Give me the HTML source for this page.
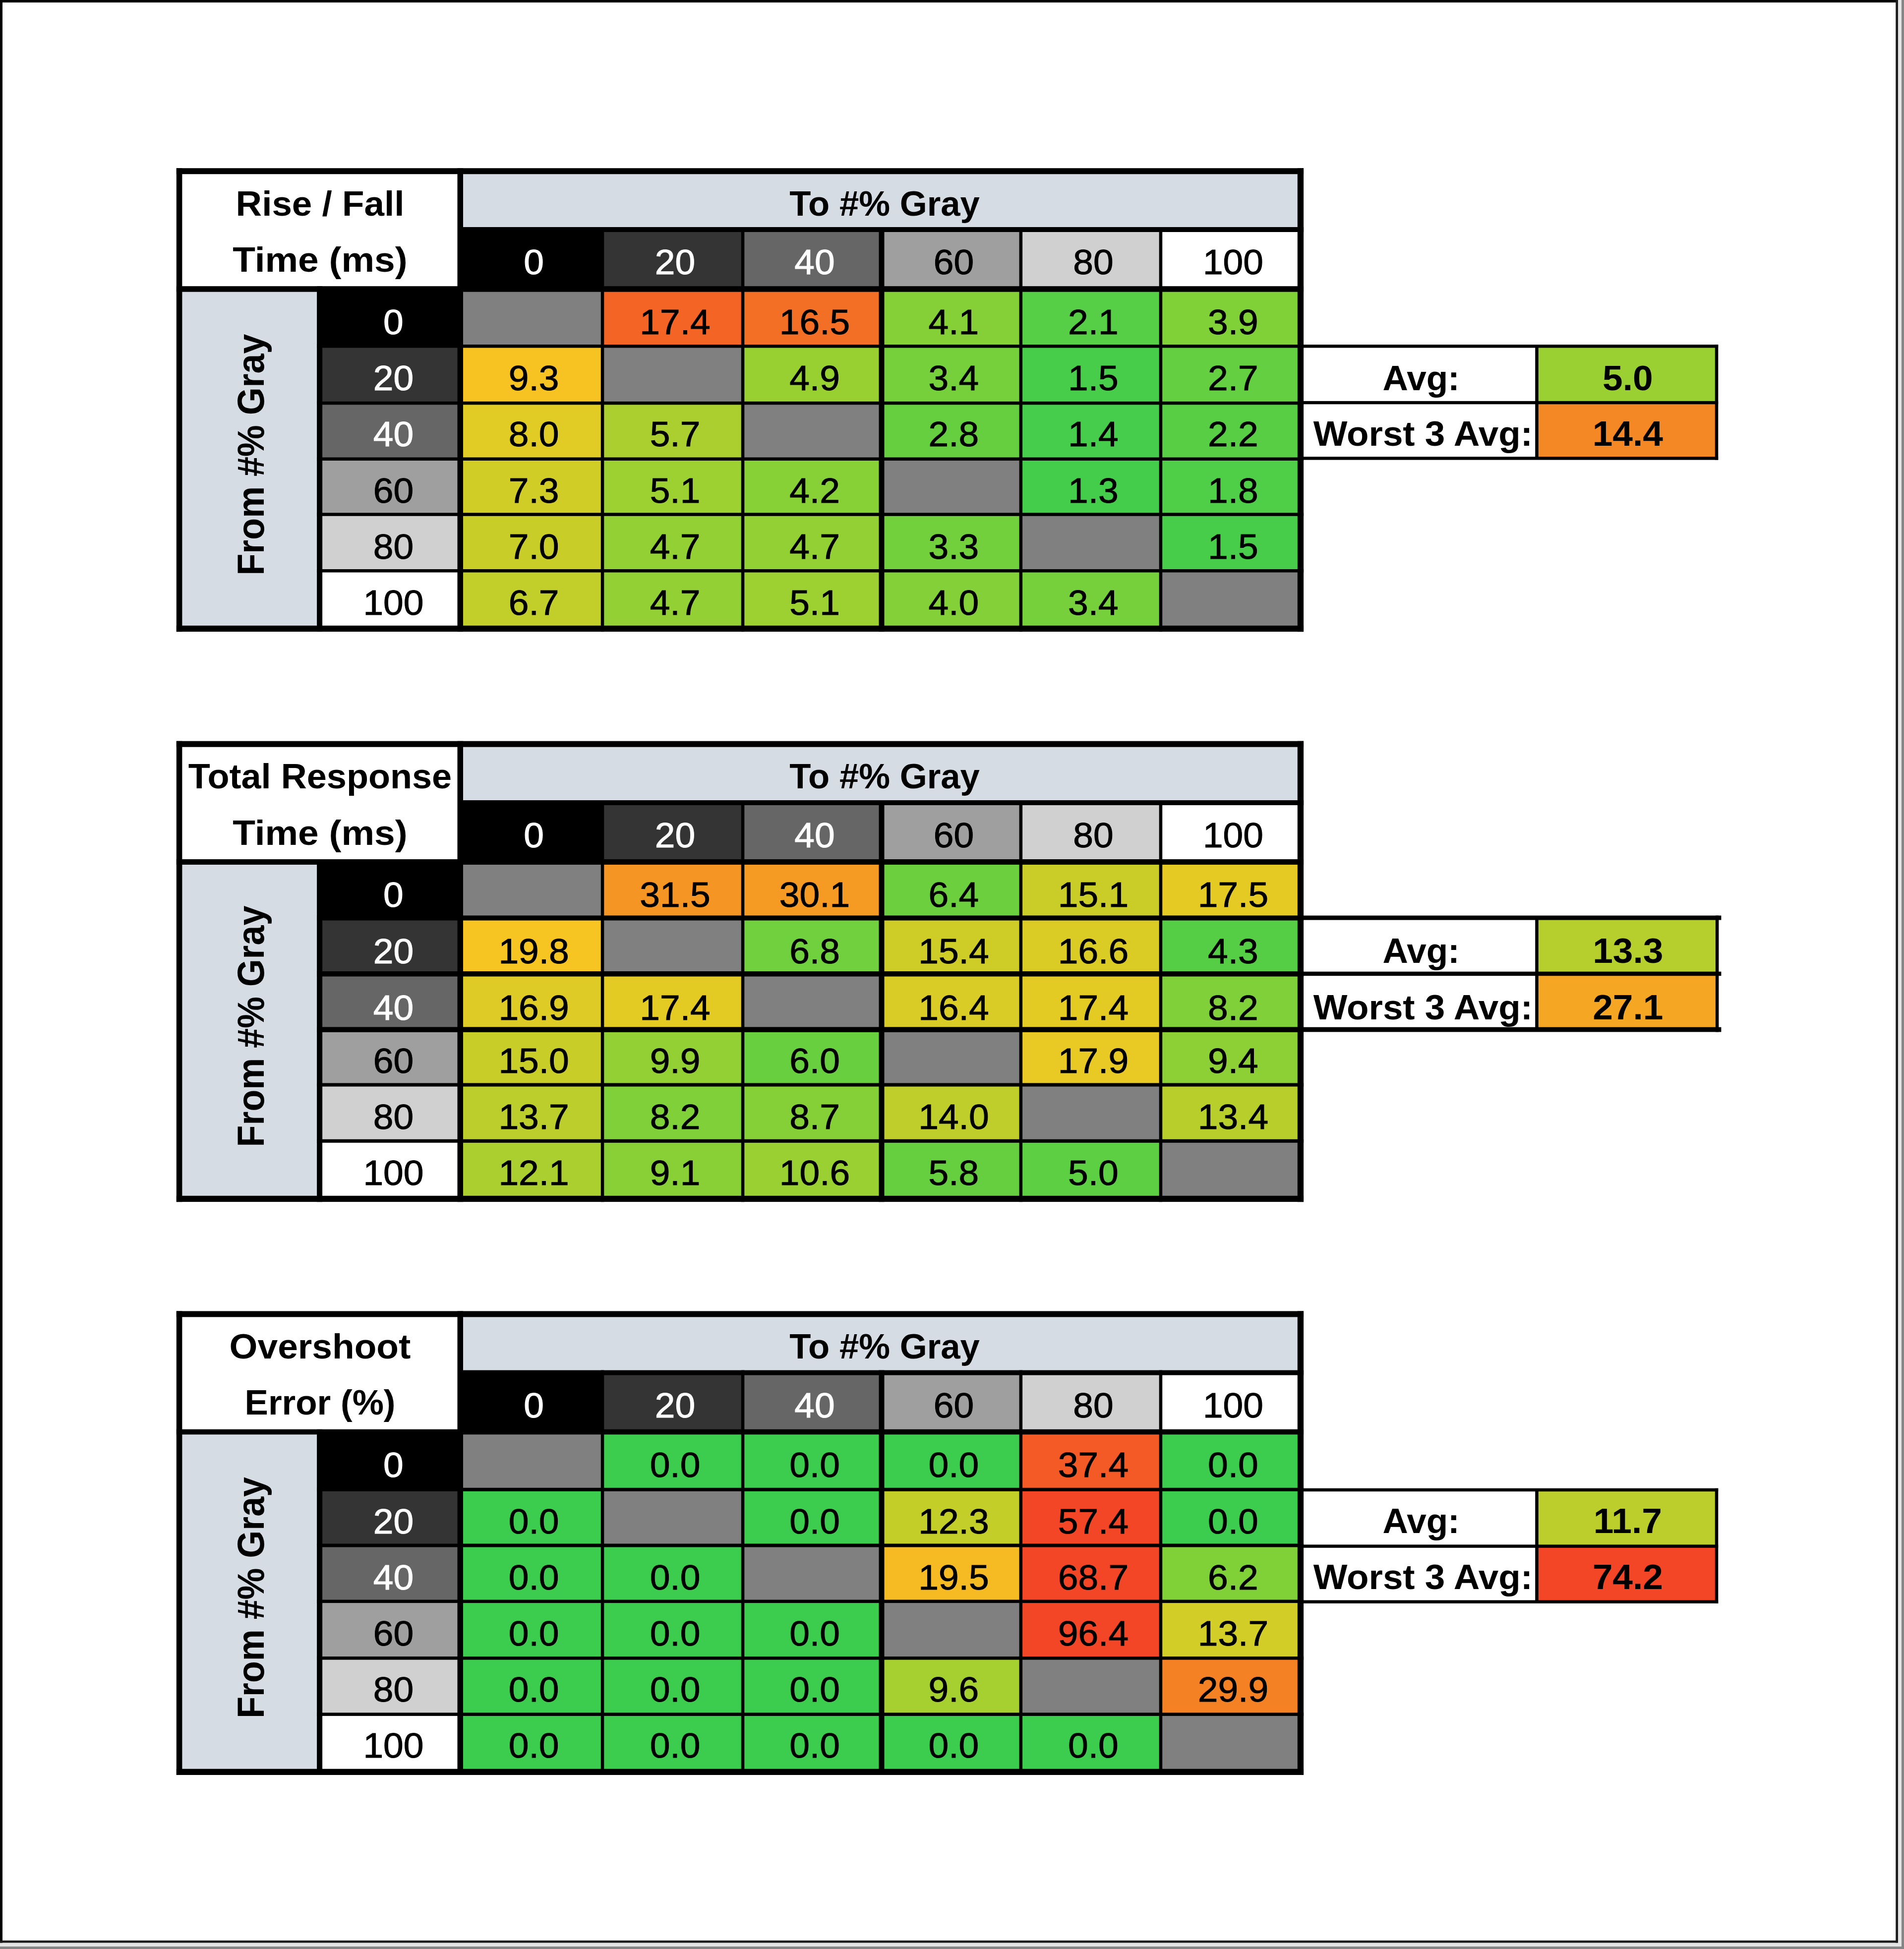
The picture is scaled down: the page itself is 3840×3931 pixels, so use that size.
<!DOCTYPE html>
<html><head><meta charset="utf-8"><title>Response Time Tables</title>
<style>html,body{margin:0;padding:0;background:#fff;}body{width:3840px;height:3931px;overflow:hidden;font-family:"Liberation Sans",sans-serif;}svg{display:block;}</style>
</head><body><svg width="3840" height="3931" viewBox="0 0 3840 3931" font-family="Liberation Sans, sans-serif" font-size="70" text-anchor="middle"><rect x="0.0" y="0.0" width="3840.0" height="3931.0" fill="#ffffff"/><rect x="928.2" y="345.2" width="1694.8" height="117.8" fill="#d6dce4"/><rect x="361.6" y="583.0" width="283.0" height="685.0" fill="#d6dce4"/><rect x="928.2" y="463.0" width="286.8" height="120.0" fill="#000000"/><rect x="1215.0" y="463.0" width="283.0" height="120.0" fill="#343434"/><rect x="1498.0" y="463.0" width="280.0" height="120.0" fill="#666666"/><rect x="1778.0" y="463.0" width="280.8" height="120.0" fill="#9f9f9f"/><rect x="2058.8" y="463.0" width="282.1" height="120.0" fill="#d0d0d0"/><rect x="2340.9" y="463.0" width="282.1" height="120.0" fill="#ffffff"/><rect x="644.6" y="583.0" width="283.6" height="115.2" fill="#000000"/><rect x="644.6" y="698.2" width="283.6" height="114.8" fill="#343434"/><rect x="644.6" y="813.0" width="283.6" height="112.7" fill="#666666"/><rect x="644.6" y="925.7" width="283.6" height="111.9" fill="#9f9f9f"/><rect x="644.6" y="1037.6" width="283.6" height="113.6" fill="#d0d0d0"/><rect x="644.6" y="1151.2" width="283.6" height="116.8" fill="#ffffff"/><rect x="928.2" y="583.0" width="286.8" height="115.2" fill="#808080"/><rect x="1215.0" y="583.0" width="283.0" height="115.2" fill="#f36425"/><rect x="1498.0" y="583.0" width="280.0" height="115.2" fill="#f36f25"/><rect x="1778.0" y="583.0" width="280.8" height="115.2" fill="#85d037"/><rect x="2058.8" y="583.0" width="282.1" height="115.2" fill="#56ce45"/><rect x="2340.9" y="583.0" width="282.1" height="115.2" fill="#80d038"/><rect x="928.2" y="698.2" width="286.8" height="114.8" fill="#f6c322"/><rect x="1215.0" y="698.2" width="283.0" height="114.8" fill="#808080"/><rect x="1498.0" y="698.2" width="280.0" height="114.8" fill="#98d032"/><rect x="1778.0" y="698.2" width="280.8" height="114.8" fill="#75d03c"/><rect x="2058.8" y="698.2" width="282.1" height="114.8" fill="#48cd4a"/><rect x="2340.9" y="698.2" width="282.1" height="114.8" fill="#64cf40"/><rect x="928.2" y="813.0" width="286.8" height="112.7" fill="#e1cb25"/><rect x="1215.0" y="813.0" width="283.0" height="112.7" fill="#abcf2e"/><rect x="1498.0" y="813.0" width="280.0" height="112.7" fill="#808080"/><rect x="1778.0" y="813.0" width="280.8" height="112.7" fill="#66cf40"/><rect x="2058.8" y="813.0" width="282.1" height="112.7" fill="#45cd4b"/><rect x="2340.9" y="813.0" width="282.1" height="112.7" fill="#58ce44"/><rect x="928.2" y="925.7" width="286.8" height="111.9" fill="#d0cd27"/><rect x="1215.0" y="925.7" width="283.0" height="111.9" fill="#9dd031"/><rect x="1498.0" y="925.7" width="280.0" height="111.9" fill="#87d036"/><rect x="1778.0" y="925.7" width="280.8" height="111.9" fill="#808080"/><rect x="2058.8" y="925.7" width="282.1" height="111.9" fill="#43cd4b"/><rect x="2340.9" y="925.7" width="282.1" height="111.9" fill="#4fce47"/><rect x="928.2" y="1037.6" width="286.8" height="113.6" fill="#c9cd28"/><rect x="1215.0" y="1037.6" width="283.0" height="113.6" fill="#93d033"/><rect x="1498.0" y="1037.6" width="280.0" height="113.6" fill="#93d033"/><rect x="1778.0" y="1037.6" width="280.8" height="113.6" fill="#72d03c"/><rect x="2058.8" y="1037.6" width="282.1" height="113.6" fill="#808080"/><rect x="2340.9" y="1037.6" width="282.1" height="113.6" fill="#48cd4a"/><rect x="928.2" y="1151.2" width="286.8" height="116.8" fill="#c2ce29"/><rect x="1215.0" y="1151.2" width="283.0" height="116.8" fill="#93d033"/><rect x="1498.0" y="1151.2" width="280.0" height="116.8" fill="#9dd031"/><rect x="1778.0" y="1151.2" width="280.8" height="116.8" fill="#83d038"/><rect x="2058.8" y="1151.2" width="282.1" height="116.8" fill="#75d03c"/><rect x="2340.9" y="1151.2" width="282.1" height="116.8" fill="#808080"/><rect x="2623.0" y="698.3" width="839.0" height="226.1" fill="#ffffff"/><rect x="3099.5" y="698.3" width="362.5" height="113.8" fill="#9ad032"/><rect x="3099.5" y="812.1" width="362.5" height="112.3" fill="#f48824"/><rect x="355.8" y="339.2" width="2273.3" height="12.0" fill="#000000"/><rect x="928.2" y="458.0" width="1701.0" height="10.0" fill="#000000"/><rect x="355.8" y="577.2" width="2273.3" height="11.5" fill="#000000"/><rect x="639.1" y="695.0" width="1990.1" height="6.5" fill="#000000"/><rect x="639.1" y="809.8" width="1990.1" height="6.5" fill="#000000"/><rect x="639.1" y="922.5" width="1990.1" height="6.5" fill="#000000"/><rect x="639.1" y="1034.3" width="1990.1" height="6.5" fill="#000000"/><rect x="639.1" y="1148.0" width="1990.1" height="6.5" fill="#000000"/><rect x="355.8" y="1261.8" width="2273.3" height="12.3" fill="#000000"/><rect x="355.8" y="339.2" width="11.6" height="935.0" fill="#000000"/><rect x="639.1" y="577.2" width="11.0" height="696.9" fill="#000000"/><rect x="922.5" y="339.2" width="11.5" height="935.0" fill="#000000"/><rect x="1211.8" y="458.0" width="6.5" height="816.2" fill="#000000"/><rect x="1494.8" y="458.0" width="6.5" height="816.2" fill="#000000"/><rect x="1772.5" y="458.0" width="11.0" height="816.2" fill="#000000"/><rect x="2055.6" y="458.0" width="6.5" height="816.2" fill="#000000"/><rect x="2337.7" y="458.0" width="6.5" height="816.2" fill="#000000"/><rect x="2616.8" y="339.2" width="12.3" height="935.0" fill="#000000"/><rect x="2623.0" y="695.1" width="842.2" height="6.4" fill="#000000"/><rect x="2623.0" y="808.9" width="842.2" height="6.4" fill="#000000"/><rect x="2623.0" y="921.2" width="842.2" height="6.4" fill="#000000"/><rect x="3096.2" y="698.3" width="6.5" height="226.1" fill="#000000"/><rect x="3458.8" y="695.1" width="6.5" height="232.5" fill="#000000"/><text transform="translate(645.5 434.5) scale(1.04 1)" font-weight="bold">Rise / Fall</text><text transform="translate(645.5 548.3) scale(1.07 1)" font-weight="bold">Time (ms)</text><text transform="translate(1784.0 434.5) scale(1.01 1)" font-weight="bold">To #% Gray</text><text transform="translate(1076.6 553.3) scale(1.045 1)" fill="#ffffff" stroke="#ffffff" stroke-width="1.0">0</text><text transform="translate(1361.5 553.3) scale(1.045 1)" fill="#ffffff" stroke="#ffffff" stroke-width="1.0">20</text><text transform="translate(1643.0 553.3) scale(1.045 1)" fill="#ffffff" stroke="#ffffff" stroke-width="1.0">40</text><text transform="translate(1923.4 553.3) scale(1.045 1)" stroke="#000000" stroke-width="1.0">60</text><text transform="translate(2204.9 553.3) scale(1.045 1)" stroke="#000000" stroke-width="1.0">80</text><text transform="translate(2486.9 553.3) scale(1.045 1)" stroke="#000000" stroke-width="1.0">100</text><text transform="translate(793.4 673.8) scale(1.045 1)" fill="#ffffff" stroke="#ffffff" stroke-width="1.0">0</text><text transform="translate(793.4 787.4) scale(1.045 1)" fill="#ffffff" stroke="#ffffff" stroke-width="1.0">20</text><text transform="translate(793.4 900.1) scale(1.045 1)" fill="#ffffff" stroke="#ffffff" stroke-width="1.0">40</text><text transform="translate(793.4 1013.8) scale(1.045 1)" stroke="#000000" stroke-width="1.0">60</text><text transform="translate(793.4 1126.5) scale(1.045 1)" stroke="#000000" stroke-width="1.0">80</text><text transform="translate(793.4 1240.1) scale(1.045 1)" stroke="#000000" stroke-width="1.0">100</text><text transform="translate(1361.5 673.8) scale(1.045 1)" stroke="#000" stroke-width="1.0">17.4</text><text transform="translate(1643.0 673.8) scale(1.045 1)" stroke="#000" stroke-width="1.0">16.5</text><text transform="translate(1923.4 673.8) scale(1.045 1)" stroke="#000" stroke-width="1.0">4.1</text><text transform="translate(2204.9 673.8) scale(1.045 1)" stroke="#000" stroke-width="1.0">2.1</text><text transform="translate(2486.9 673.8) scale(1.045 1)" stroke="#000" stroke-width="1.0">3.9</text><text transform="translate(1076.6 787.4) scale(1.045 1)" stroke="#000" stroke-width="1.0">9.3</text><text transform="translate(1643.0 787.4) scale(1.045 1)" stroke="#000" stroke-width="1.0">4.9</text><text transform="translate(1923.4 787.4) scale(1.045 1)" stroke="#000" stroke-width="1.0">3.4</text><text transform="translate(2204.9 787.4) scale(1.045 1)" stroke="#000" stroke-width="1.0">1.5</text><text transform="translate(2486.9 787.4) scale(1.045 1)" stroke="#000" stroke-width="1.0">2.7</text><text transform="translate(1076.6 900.1) scale(1.045 1)" stroke="#000" stroke-width="1.0">8.0</text><text transform="translate(1361.5 900.1) scale(1.045 1)" stroke="#000" stroke-width="1.0">5.7</text><text transform="translate(1923.4 900.1) scale(1.045 1)" stroke="#000" stroke-width="1.0">2.8</text><text transform="translate(2204.9 900.1) scale(1.045 1)" stroke="#000" stroke-width="1.0">1.4</text><text transform="translate(2486.9 900.1) scale(1.045 1)" stroke="#000" stroke-width="1.0">2.2</text><text transform="translate(1076.6 1013.8) scale(1.045 1)" stroke="#000" stroke-width="1.0">7.3</text><text transform="translate(1361.5 1013.8) scale(1.045 1)" stroke="#000" stroke-width="1.0">5.1</text><text transform="translate(1643.0 1013.8) scale(1.045 1)" stroke="#000" stroke-width="1.0">4.2</text><text transform="translate(2204.9 1013.8) scale(1.045 1)" stroke="#000" stroke-width="1.0">1.3</text><text transform="translate(2486.9 1013.8) scale(1.045 1)" stroke="#000" stroke-width="1.0">1.8</text><text transform="translate(1076.6 1126.5) scale(1.045 1)" stroke="#000" stroke-width="1.0">7.0</text><text transform="translate(1361.5 1126.5) scale(1.045 1)" stroke="#000" stroke-width="1.0">4.7</text><text transform="translate(1643.0 1126.5) scale(1.045 1)" stroke="#000" stroke-width="1.0">4.7</text><text transform="translate(1923.4 1126.5) scale(1.045 1)" stroke="#000" stroke-width="1.0">3.3</text><text transform="translate(2486.9 1126.5) scale(1.045 1)" stroke="#000" stroke-width="1.0">1.5</text><text transform="translate(1076.6 1240.1) scale(1.045 1)" stroke="#000" stroke-width="1.0">6.7</text><text transform="translate(1361.5 1240.1) scale(1.045 1)" stroke="#000" stroke-width="1.0">4.7</text><text transform="translate(1643.0 1240.1) scale(1.045 1)" stroke="#000" stroke-width="1.0">5.1</text><text transform="translate(1923.4 1240.1) scale(1.045 1)" stroke="#000" stroke-width="1.0">4.0</text><text transform="translate(2204.9 1240.1) scale(1.045 1)" stroke="#000" stroke-width="1.0">3.4</text><text transform="translate(531.8 917.1) rotate(-90) scale(0.945 1)" font-weight="bold" font-size="76">From #% Gray</text><text transform="translate(2866.1 786.6) scale(1.015 1)" font-weight="bold">Avg:</text><text transform="translate(2869.8 899.3) scale(1.04 1)" font-weight="bold">Worst 3 Avg:</text><text transform="translate(3282.8 786.6) scale(1.045 1)" font-weight="bold">5.0</text><text transform="translate(3282.8 899.3) scale(1.045 1)" font-weight="bold">14.4</text><rect x="928.2" y="1500.7" width="1694.8" height="118.3" fill="#d6dce4"/><rect x="361.6" y="1738.5" width="283.0" height="679.5" fill="#d6dce4"/><rect x="928.2" y="1619.0" width="286.8" height="119.5" fill="#000000"/><rect x="1215.0" y="1619.0" width="283.0" height="119.5" fill="#343434"/><rect x="1498.0" y="1619.0" width="280.0" height="119.5" fill="#666666"/><rect x="1778.0" y="1619.0" width="280.8" height="119.5" fill="#9f9f9f"/><rect x="2058.8" y="1619.0" width="282.1" height="119.5" fill="#d0d0d0"/><rect x="2340.9" y="1619.0" width="282.1" height="119.5" fill="#ffffff"/><rect x="644.6" y="1738.5" width="283.6" height="113.0" fill="#000000"/><rect x="644.6" y="1851.5" width="283.6" height="112.7" fill="#343434"/><rect x="644.6" y="1964.2" width="283.6" height="112.5" fill="#666666"/><rect x="644.6" y="2076.7" width="283.6" height="111.3" fill="#9f9f9f"/><rect x="644.6" y="2188.0" width="283.6" height="113.3" fill="#d0d0d0"/><rect x="644.6" y="2301.3" width="283.6" height="116.7" fill="#ffffff"/><rect x="928.2" y="1738.5" width="286.8" height="113.0" fill="#808080"/><rect x="1215.0" y="1738.5" width="283.0" height="113.0" fill="#f49524"/><rect x="1498.0" y="1738.5" width="280.0" height="113.0" fill="#f59b23"/><rect x="1778.0" y="1738.5" width="280.8" height="113.0" fill="#6cd03e"/><rect x="2058.8" y="1738.5" width="282.1" height="113.0" fill="#cacd28"/><rect x="2340.9" y="1738.5" width="282.1" height="113.0" fill="#e5ca24"/><rect x="928.2" y="1851.5" width="286.8" height="112.7" fill="#f6c522"/><rect x="1215.0" y="1851.5" width="283.0" height="112.7" fill="#808080"/><rect x="1498.0" y="1851.5" width="280.0" height="112.7" fill="#70d03d"/><rect x="1778.0" y="1851.5" width="280.8" height="112.7" fill="#cecd27"/><rect x="2058.8" y="1851.5" width="282.1" height="112.7" fill="#dbcc25"/><rect x="2340.9" y="1851.5" width="282.1" height="112.7" fill="#55ce45"/><rect x="928.2" y="1964.2" width="286.8" height="112.5" fill="#decb25"/><rect x="1215.0" y="1964.2" width="283.0" height="112.5" fill="#e4cb24"/><rect x="1498.0" y="1964.2" width="280.0" height="112.5" fill="#808080"/><rect x="1778.0" y="1964.2" width="280.8" height="112.5" fill="#d9cc26"/><rect x="2058.8" y="1964.2" width="282.1" height="112.5" fill="#e4cb24"/><rect x="2340.9" y="1964.2" width="282.1" height="112.5" fill="#7fd039"/><rect x="928.2" y="2076.7" width="286.8" height="111.3" fill="#c9cd28"/><rect x="1215.0" y="2076.7" width="283.0" height="111.3" fill="#92d034"/><rect x="1498.0" y="2076.7" width="280.0" height="111.3" fill="#68cf3f"/><rect x="1778.0" y="2076.7" width="280.8" height="111.3" fill="#808080"/><rect x="2058.8" y="2076.7" width="282.1" height="111.3" fill="#e9ca24"/><rect x="2340.9" y="2076.7" width="282.1" height="111.3" fill="#8cd035"/><rect x="928.2" y="2188.0" width="286.8" height="113.3" fill="#bbce2b"/><rect x="1215.0" y="2188.0" width="283.0" height="113.3" fill="#7fd039"/><rect x="1498.0" y="2188.0" width="280.0" height="113.3" fill="#85d037"/><rect x="1778.0" y="2188.0" width="280.8" height="113.3" fill="#bfce2a"/><rect x="2058.8" y="2188.0" width="282.1" height="113.3" fill="#808080"/><rect x="2340.9" y="2188.0" width="282.1" height="113.3" fill="#b8cf2b"/><rect x="928.2" y="2301.3" width="286.8" height="116.7" fill="#aacf2e"/><rect x="1215.0" y="2301.3" width="283.0" height="116.7" fill="#89d036"/><rect x="1498.0" y="2301.3" width="280.0" height="116.7" fill="#9ad032"/><rect x="1778.0" y="2301.3" width="280.8" height="116.7" fill="#65cf40"/><rect x="2058.8" y="2301.3" width="282.1" height="116.7" fill="#5dcf43"/><rect x="2340.9" y="2301.3" width="282.1" height="116.7" fill="#808080"/><rect x="2623.0" y="1851.1" width="840.2" height="225.4" fill="#ffffff"/><rect x="3099.5" y="1851.1" width="363.7" height="112.8" fill="#b7cf2c"/><rect x="3099.5" y="1963.9" width="363.7" height="112.6" fill="#f5a723"/><rect x="355.8" y="1494.7" width="2273.3" height="12.0" fill="#000000"/><rect x="928.2" y="1614.0" width="1701.0" height="10.0" fill="#000000"/><rect x="355.8" y="1733.0" width="2273.3" height="11.0" fill="#000000"/><rect x="639.1" y="1846.5" width="1990.1" height="10.0" fill="#000000"/><rect x="639.1" y="1959.0" width="1990.1" height="10.5" fill="#000000"/><rect x="639.1" y="2071.4" width="1990.1" height="10.5" fill="#000000"/><rect x="639.1" y="2184.5" width="1990.1" height="7.0" fill="#000000"/><rect x="639.1" y="2297.8" width="1990.1" height="7.0" fill="#000000"/><rect x="355.8" y="2411.8" width="2273.3" height="12.3" fill="#000000"/><rect x="355.8" y="1494.7" width="11.6" height="929.5" fill="#000000"/><rect x="639.1" y="1733.0" width="11.0" height="691.2" fill="#000000"/><rect x="922.5" y="1494.7" width="11.5" height="929.5" fill="#000000"/><rect x="1211.8" y="1614.0" width="6.5" height="810.2" fill="#000000"/><rect x="1494.8" y="1614.0" width="6.5" height="810.2" fill="#000000"/><rect x="1772.5" y="1614.0" width="11.0" height="810.2" fill="#000000"/><rect x="2055.6" y="1614.0" width="6.5" height="810.2" fill="#000000"/><rect x="2337.7" y="1614.0" width="6.5" height="810.2" fill="#000000"/><rect x="2616.8" y="1494.7" width="12.3" height="929.5" fill="#000000"/><rect x="2623.0" y="1846.6" width="848.4" height="9.0" fill="#000000"/><rect x="2623.0" y="1959.7" width="848.4" height="8.5" fill="#000000"/><rect x="2623.0" y="2071.7" width="848.4" height="9.7" fill="#000000"/><rect x="3096.2" y="1851.1" width="6.5" height="225.4" fill="#000000"/><rect x="3459.9" y="1846.6" width="6.5" height="234.8" fill="#000000"/><text transform="translate(645.5 1590.3) scale(1.03 1)" font-weight="bold">Total Response</text><text transform="translate(645.5 1703.8) scale(1.07 1)" font-weight="bold">Time (ms)</text><text transform="translate(1784.0 1590.3) scale(1.01 1)" font-weight="bold">To #% Gray</text><text transform="translate(1076.6 1708.9) scale(1.045 1)" fill="#ffffff" stroke="#ffffff" stroke-width="1.0">0</text><text transform="translate(1361.5 1708.9) scale(1.045 1)" fill="#ffffff" stroke="#ffffff" stroke-width="1.0">20</text><text transform="translate(1643.0 1708.9) scale(1.045 1)" fill="#ffffff" stroke="#ffffff" stroke-width="1.0">40</text><text transform="translate(1923.4 1708.9) scale(1.045 1)" stroke="#000000" stroke-width="1.0">60</text><text transform="translate(2204.9 1708.9) scale(1.045 1)" stroke="#000000" stroke-width="1.0">80</text><text transform="translate(2486.9 1708.9) scale(1.045 1)" stroke="#000000" stroke-width="1.0">100</text><text transform="translate(793.4 1829.4) scale(1.045 1)" fill="#ffffff" stroke="#ffffff" stroke-width="1.0">0</text><text transform="translate(793.4 1943.0) scale(1.045 1)" fill="#ffffff" stroke="#ffffff" stroke-width="1.0">20</text><text transform="translate(793.4 2056.6) scale(1.045 1)" fill="#ffffff" stroke="#ffffff" stroke-width="1.0">40</text><text transform="translate(793.4 2163.8) scale(1.045 1)" stroke="#000000" stroke-width="1.0">60</text><text transform="translate(793.4 2276.5) scale(1.045 1)" stroke="#000000" stroke-width="1.0">80</text><text transform="translate(793.4 2390.1) scale(1.045 1)" stroke="#000000" stroke-width="1.0">100</text><text transform="translate(1361.5 1829.4) scale(1.045 1)" stroke="#000" stroke-width="1.0">31.5</text><text transform="translate(1643.0 1829.4) scale(1.045 1)" stroke="#000" stroke-width="1.0">30.1</text><text transform="translate(1923.4 1829.4) scale(1.045 1)" stroke="#000" stroke-width="1.0">6.4</text><text transform="translate(2204.9 1829.4) scale(1.045 1)" stroke="#000" stroke-width="1.0">15.1</text><text transform="translate(2486.9 1829.4) scale(1.045 1)" stroke="#000" stroke-width="1.0">17.5</text><text transform="translate(1076.6 1943.0) scale(1.045 1)" stroke="#000" stroke-width="1.0">19.8</text><text transform="translate(1643.0 1943.0) scale(1.045 1)" stroke="#000" stroke-width="1.0">6.8</text><text transform="translate(1923.4 1943.0) scale(1.045 1)" stroke="#000" stroke-width="1.0">15.4</text><text transform="translate(2204.9 1943.0) scale(1.045 1)" stroke="#000" stroke-width="1.0">16.6</text><text transform="translate(2486.9 1943.0) scale(1.045 1)" stroke="#000" stroke-width="1.0">4.3</text><text transform="translate(1076.6 2056.6) scale(1.045 1)" stroke="#000" stroke-width="1.0">16.9</text><text transform="translate(1361.5 2056.6) scale(1.045 1)" stroke="#000" stroke-width="1.0">17.4</text><text transform="translate(1923.4 2056.6) scale(1.045 1)" stroke="#000" stroke-width="1.0">16.4</text><text transform="translate(2204.9 2056.6) scale(1.045 1)" stroke="#000" stroke-width="1.0">17.4</text><text transform="translate(2486.9 2056.6) scale(1.045 1)" stroke="#000" stroke-width="1.0">8.2</text><text transform="translate(1076.6 2163.8) scale(1.045 1)" stroke="#000" stroke-width="1.0">15.0</text><text transform="translate(1361.5 2163.8) scale(1.045 1)" stroke="#000" stroke-width="1.0">9.9</text><text transform="translate(1643.0 2163.8) scale(1.045 1)" stroke="#000" stroke-width="1.0">6.0</text><text transform="translate(2204.9 2163.8) scale(1.045 1)" stroke="#000" stroke-width="1.0">17.9</text><text transform="translate(2486.9 2163.8) scale(1.045 1)" stroke="#000" stroke-width="1.0">9.4</text><text transform="translate(1076.6 2276.5) scale(1.045 1)" stroke="#000" stroke-width="1.0">13.7</text><text transform="translate(1361.5 2276.5) scale(1.045 1)" stroke="#000" stroke-width="1.0">8.2</text><text transform="translate(1643.0 2276.5) scale(1.045 1)" stroke="#000" stroke-width="1.0">8.7</text><text transform="translate(1923.4 2276.5) scale(1.045 1)" stroke="#000" stroke-width="1.0">14.0</text><text transform="translate(2486.9 2276.5) scale(1.045 1)" stroke="#000" stroke-width="1.0">13.4</text><text transform="translate(1076.6 2390.1) scale(1.045 1)" stroke="#000" stroke-width="1.0">12.1</text><text transform="translate(1361.5 2390.1) scale(1.045 1)" stroke="#000" stroke-width="1.0">9.1</text><text transform="translate(1643.0 2390.1) scale(1.045 1)" stroke="#000" stroke-width="1.0">10.6</text><text transform="translate(1923.4 2390.1) scale(1.045 1)" stroke="#000" stroke-width="1.0">5.8</text><text transform="translate(2204.9 2390.1) scale(1.045 1)" stroke="#000" stroke-width="1.0">5.0</text><text transform="translate(531.8 2070.0) rotate(-90) scale(0.945 1)" font-weight="bold" font-size="76">From #% Gray</text><text transform="translate(2866.1 1942.2) scale(1.015 1)" font-weight="bold">Avg:</text><text transform="translate(2869.8 2055.8) scale(1.04 1)" font-weight="bold">Worst 3 Avg:</text><text transform="translate(3283.3 1942.2) scale(1.045 1)" font-weight="bold">13.3</text><text transform="translate(3283.3 2055.8) scale(1.045 1)" font-weight="bold">27.1</text><rect x="928.2" y="2650.4" width="1694.8" height="118.2" fill="#d6dce4"/><rect x="361.6" y="2888.0" width="283.0" height="685.8" fill="#d6dce4"/><rect x="928.2" y="2768.6" width="286.8" height="119.4" fill="#000000"/><rect x="1215.0" y="2768.6" width="283.0" height="119.4" fill="#343434"/><rect x="1498.0" y="2768.6" width="280.0" height="119.4" fill="#666666"/><rect x="1778.0" y="2768.6" width="280.8" height="119.4" fill="#9f9f9f"/><rect x="2058.8" y="2768.6" width="282.1" height="119.4" fill="#d0d0d0"/><rect x="2340.9" y="2768.6" width="282.1" height="119.4" fill="#ffffff"/><rect x="644.6" y="2888.0" width="283.6" height="116.3" fill="#000000"/><rect x="644.6" y="3004.3" width="283.6" height="112.7" fill="#343434"/><rect x="644.6" y="3117.0" width="283.6" height="112.8" fill="#666666"/><rect x="644.6" y="3229.8" width="283.6" height="114.5" fill="#9f9f9f"/><rect x="644.6" y="3344.3" width="283.6" height="113.4" fill="#d0d0d0"/><rect x="644.6" y="3457.7" width="283.6" height="116.1" fill="#ffffff"/><rect x="928.2" y="2888.0" width="286.8" height="116.3" fill="#808080"/><rect x="1215.0" y="2888.0" width="283.0" height="116.3" fill="#3ccc4e"/><rect x="1498.0" y="2888.0" width="280.0" height="116.3" fill="#3ccc4e"/><rect x="1778.0" y="2888.0" width="280.8" height="116.3" fill="#3ccc4e"/><rect x="2058.8" y="2888.0" width="282.1" height="116.3" fill="#f35a25"/><rect x="2340.9" y="2888.0" width="282.1" height="116.3" fill="#3ccc4e"/><rect x="928.2" y="3004.3" width="286.8" height="112.7" fill="#3ccc4e"/><rect x="1215.0" y="3004.3" width="283.0" height="112.7" fill="#808080"/><rect x="1498.0" y="3004.3" width="280.0" height="112.7" fill="#3ccc4e"/><rect x="1778.0" y="3004.3" width="280.8" height="112.7" fill="#c3ce29"/><rect x="2058.8" y="3004.3" width="282.1" height="112.7" fill="#f24626"/><rect x="2340.9" y="3004.3" width="282.1" height="112.7" fill="#3ccc4e"/><rect x="928.2" y="3117.0" width="286.8" height="112.8" fill="#3ccc4e"/><rect x="1215.0" y="3117.0" width="283.0" height="112.8" fill="#3ccc4e"/><rect x="1498.0" y="3117.0" width="280.0" height="112.8" fill="#808080"/><rect x="1778.0" y="3117.0" width="280.8" height="112.8" fill="#f6ba22"/><rect x="2058.8" y="3117.0" width="282.1" height="112.8" fill="#f24626"/><rect x="2340.9" y="3117.0" width="282.1" height="112.8" fill="#80d038"/><rect x="928.2" y="3229.8" width="286.8" height="114.5" fill="#3ccc4e"/><rect x="1215.0" y="3229.8" width="283.0" height="114.5" fill="#3ccc4e"/><rect x="1498.0" y="3229.8" width="280.0" height="114.5" fill="#3ccc4e"/><rect x="1778.0" y="3229.8" width="280.8" height="114.5" fill="#808080"/><rect x="2058.8" y="3229.8" width="282.1" height="114.5" fill="#f24626"/><rect x="2340.9" y="3229.8" width="282.1" height="114.5" fill="#d2cd27"/><rect x="928.2" y="3344.3" width="286.8" height="113.4" fill="#3ccc4e"/><rect x="1215.0" y="3344.3" width="283.0" height="113.4" fill="#3ccc4e"/><rect x="1498.0" y="3344.3" width="280.0" height="113.4" fill="#3ccc4e"/><rect x="1778.0" y="3344.3" width="280.8" height="113.4" fill="#a5d02f"/><rect x="2058.8" y="3344.3" width="282.1" height="113.4" fill="#808080"/><rect x="2340.9" y="3344.3" width="282.1" height="113.4" fill="#f48224"/><rect x="928.2" y="3457.7" width="286.8" height="116.1" fill="#3ccc4e"/><rect x="1215.0" y="3457.7" width="283.0" height="116.1" fill="#3ccc4e"/><rect x="1498.0" y="3457.7" width="280.0" height="116.1" fill="#3ccc4e"/><rect x="1778.0" y="3457.7" width="280.8" height="116.1" fill="#3ccc4e"/><rect x="2058.8" y="3457.7" width="282.1" height="116.1" fill="#3ccc4e"/><rect x="2340.9" y="3457.7" width="282.1" height="116.1" fill="#808080"/><rect x="2623.0" y="3005.0" width="839.0" height="225.7" fill="#ffffff"/><rect x="3099.5" y="3005.0" width="362.5" height="113.6" fill="#bcce2b"/><rect x="3099.5" y="3118.6" width="362.5" height="112.1" fill="#f24626"/><rect x="355.8" y="2644.4" width="2273.3" height="12.0" fill="#000000"/><rect x="928.2" y="2763.6" width="1701.0" height="10.0" fill="#000000"/><rect x="355.8" y="2882.8" width="2273.3" height="10.5" fill="#000000"/><rect x="639.1" y="3000.8" width="1990.1" height="7.0" fill="#000000"/><rect x="639.1" y="3113.5" width="1990.1" height="7.0" fill="#000000"/><rect x="639.1" y="3226.6" width="1990.1" height="6.5" fill="#000000"/><rect x="639.1" y="3341.1" width="1990.1" height="6.5" fill="#000000"/><rect x="639.1" y="3454.4" width="1990.1" height="6.5" fill="#000000"/><rect x="355.8" y="3567.7" width="2273.3" height="12.3" fill="#000000"/><rect x="355.8" y="2644.4" width="11.6" height="935.6" fill="#000000"/><rect x="639.1" y="2882.8" width="11.0" height="697.2" fill="#000000"/><rect x="922.5" y="2644.4" width="11.5" height="935.6" fill="#000000"/><rect x="1211.8" y="2763.6" width="6.5" height="816.4" fill="#000000"/><rect x="1494.8" y="2763.6" width="6.5" height="816.4" fill="#000000"/><rect x="1772.5" y="2763.6" width="11.0" height="816.4" fill="#000000"/><rect x="2055.6" y="2763.6" width="6.5" height="816.4" fill="#000000"/><rect x="2337.7" y="2763.6" width="6.5" height="816.4" fill="#000000"/><rect x="2616.8" y="2644.4" width="12.3" height="935.6" fill="#000000"/><rect x="2623.0" y="3001.8" width="842.2" height="6.4" fill="#000000"/><rect x="2623.0" y="3115.4" width="842.2" height="6.4" fill="#000000"/><rect x="2623.0" y="3227.5" width="842.2" height="6.4" fill="#000000"/><rect x="3096.2" y="3005.0" width="6.5" height="225.7" fill="#000000"/><rect x="3458.8" y="3001.8" width="6.5" height="232.1" fill="#000000"/><text transform="translate(645.5 2739.8) scale(1.045 1)" font-weight="bold">Overshoot</text><text transform="translate(645.5 2852.8) scale(1.015 1)" font-weight="bold">Error (%)</text><text transform="translate(1784.0 2739.8) scale(1.01 1)" font-weight="bold">To #% Gray</text><text transform="translate(1076.6 2858.6) scale(1.045 1)" fill="#ffffff" stroke="#ffffff" stroke-width="1.0">0</text><text transform="translate(1361.5 2858.6) scale(1.045 1)" fill="#ffffff" stroke="#ffffff" stroke-width="1.0">20</text><text transform="translate(1643.0 2858.6) scale(1.045 1)" fill="#ffffff" stroke="#ffffff" stroke-width="1.0">40</text><text transform="translate(1923.4 2858.6) scale(1.045 1)" stroke="#000000" stroke-width="1.0">60</text><text transform="translate(2204.9 2858.6) scale(1.045 1)" stroke="#000000" stroke-width="1.0">80</text><text transform="translate(2486.9 2858.6) scale(1.045 1)" stroke="#000000" stroke-width="1.0">100</text><text transform="translate(793.4 2979.4) scale(1.045 1)" fill="#ffffff" stroke="#ffffff" stroke-width="1.0">0</text><text transform="translate(793.4 3093.0) scale(1.045 1)" fill="#ffffff" stroke="#ffffff" stroke-width="1.0">20</text><text transform="translate(793.4 3205.6) scale(1.045 1)" fill="#ffffff" stroke="#ffffff" stroke-width="1.0">40</text><text transform="translate(793.4 3318.5) scale(1.045 1)" stroke="#000000" stroke-width="1.0">60</text><text transform="translate(793.4 3432.1) scale(1.045 1)" stroke="#000000" stroke-width="1.0">80</text><text transform="translate(793.4 3544.7) scale(1.045 1)" stroke="#000000" stroke-width="1.0">100</text><text transform="translate(1361.5 2979.4) scale(1.045 1)" stroke="#000" stroke-width="1.0">0.0</text><text transform="translate(1643.0 2979.4) scale(1.045 1)" stroke="#000" stroke-width="1.0">0.0</text><text transform="translate(1923.4 2979.4) scale(1.045 1)" stroke="#000" stroke-width="1.0">0.0</text><text transform="translate(2204.9 2979.4) scale(1.045 1)" stroke="#000" stroke-width="1.0">37.4</text><text transform="translate(2486.9 2979.4) scale(1.045 1)" stroke="#000" stroke-width="1.0">0.0</text><text transform="translate(1076.6 3093.0) scale(1.045 1)" stroke="#000" stroke-width="1.0">0.0</text><text transform="translate(1643.0 3093.0) scale(1.045 1)" stroke="#000" stroke-width="1.0">0.0</text><text transform="translate(1923.4 3093.0) scale(1.045 1)" stroke="#000" stroke-width="1.0">12.3</text><text transform="translate(2204.9 3093.0) scale(1.045 1)" stroke="#000" stroke-width="1.0">57.4</text><text transform="translate(2486.9 3093.0) scale(1.045 1)" stroke="#000" stroke-width="1.0">0.0</text><text transform="translate(1076.6 3205.6) scale(1.045 1)" stroke="#000" stroke-width="1.0">0.0</text><text transform="translate(1361.5 3205.6) scale(1.045 1)" stroke="#000" stroke-width="1.0">0.0</text><text transform="translate(1923.4 3205.6) scale(1.045 1)" stroke="#000" stroke-width="1.0">19.5</text><text transform="translate(2204.9 3205.6) scale(1.045 1)" stroke="#000" stroke-width="1.0">68.7</text><text transform="translate(2486.9 3205.6) scale(1.045 1)" stroke="#000" stroke-width="1.0">6.2</text><text transform="translate(1076.6 3318.5) scale(1.045 1)" stroke="#000" stroke-width="1.0">0.0</text><text transform="translate(1361.5 3318.5) scale(1.045 1)" stroke="#000" stroke-width="1.0">0.0</text><text transform="translate(1643.0 3318.5) scale(1.045 1)" stroke="#000" stroke-width="1.0">0.0</text><text transform="translate(2204.9 3318.5) scale(1.045 1)" stroke="#000" stroke-width="1.0">96.4</text><text transform="translate(2486.9 3318.5) scale(1.045 1)" stroke="#000" stroke-width="1.0">13.7</text><text transform="translate(1076.6 3432.1) scale(1.045 1)" stroke="#000" stroke-width="1.0">0.0</text><text transform="translate(1361.5 3432.1) scale(1.045 1)" stroke="#000" stroke-width="1.0">0.0</text><text transform="translate(1643.0 3432.1) scale(1.045 1)" stroke="#000" stroke-width="1.0">0.0</text><text transform="translate(1923.4 3432.1) scale(1.045 1)" stroke="#000" stroke-width="1.0">9.6</text><text transform="translate(2486.9 3432.1) scale(1.045 1)" stroke="#000" stroke-width="1.0">29.9</text><text transform="translate(1076.6 3544.7) scale(1.045 1)" stroke="#000" stroke-width="1.0">0.0</text><text transform="translate(1361.5 3544.7) scale(1.045 1)" stroke="#000" stroke-width="1.0">0.0</text><text transform="translate(1643.0 3544.7) scale(1.045 1)" stroke="#000" stroke-width="1.0">0.0</text><text transform="translate(1923.4 3544.7) scale(1.045 1)" stroke="#000" stroke-width="1.0">0.0</text><text transform="translate(2204.9 3544.7) scale(1.045 1)" stroke="#000" stroke-width="1.0">0.0</text><text transform="translate(531.8 3222.4) rotate(-90) scale(0.945 1)" font-weight="bold" font-size="76">From #% Gray</text><text transform="translate(2866.1 3092.2) scale(1.015 1)" font-weight="bold">Avg:</text><text transform="translate(2869.8 3204.8) scale(1.04 1)" font-weight="bold">Worst 3 Avg:</text><text transform="translate(3282.8 3092.2) scale(1.045 1)" font-weight="bold">11.7</text><text transform="translate(3282.8 3204.8) scale(1.045 1)" font-weight="bold">74.2</text><rect x="0" y="0" width="3828" height="5" fill="#000"/><rect x="0" y="0" width="5" height="3918.5" fill="#000"/><rect x="3823.3" y="0" width="4.8" height="3918.5" fill="#1c1c1c"/><rect x="0" y="3913.8" width="3828" height="4.7" fill="#1c1c1c"/><rect x="3828.5" y="0" width="6.5" height="3926" fill="#e4e4e4"/><rect x="0" y="3919" width="3835" height="7" fill="#e4e4e4"/><rect x="3835" y="0" width="5" height="3931" fill="#858585"/><rect x="0" y="3926" width="3840" height="5" fill="#858585"/></svg></body></html>
